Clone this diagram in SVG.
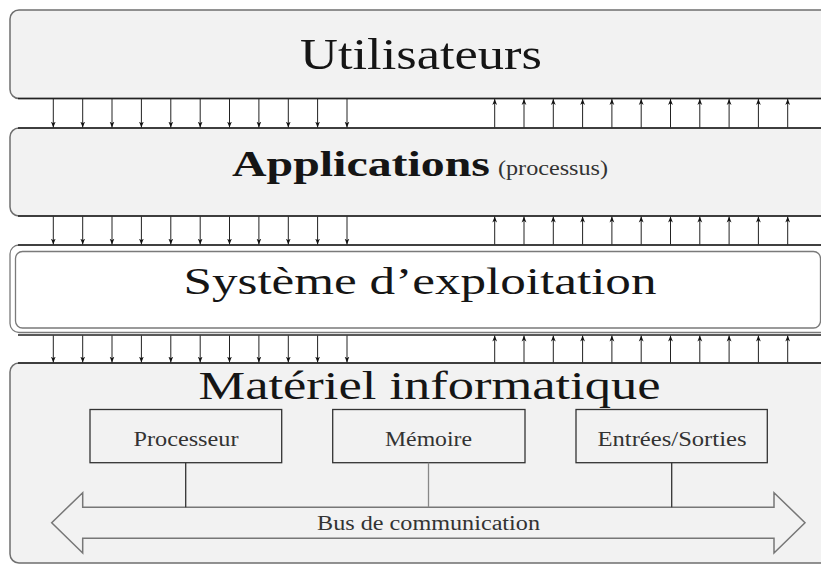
<svg xmlns="http://www.w3.org/2000/svg" width="821" height="565" viewBox="0 0 821 565">
<defs>
<style>
.layer{fill:#f2f2f2;stroke:#6f6f6f;stroke-width:1.5}
.os{fill:#ffffff;stroke:#7a7a7a;stroke-width:1.3}
.title{font-family:"Liberation Serif","DejaVu Serif",serif;fill:#151515}
.lbl{font-family:"Liberation Serif","DejaVu Serif",serif;fill:#333;font-size:20px}
.comp{fill:#f2f2f2;stroke:#333;stroke-width:1.3}
.sep{stroke:#222;stroke-width:1.3;fill:none}
.arr{stroke:#222;stroke-width:1;fill:none;marker-end:url(#ah)}
.link{stroke:#333;stroke-width:1.3}
</style>
<marker id="ah" viewBox="0 0 10 10" refX="10" refY="5" markerWidth="6" markerHeight="6" markerUnits="userSpaceOnUse" orient="auto">
<path d="M0,1 L10,5 L0,9 L3,5 Z" fill="#111"/>
</marker>
</defs>
<rect width="821" height="565" fill="#ffffff"/>

<g id="utilisateurs">
<rect class="layer" x="10" y="10" width="830" height="88.5" rx="9"/>
<text class="title" x="421" y="68.5" font-size="45" text-anchor="middle" textLength="242" lengthAdjust="spacingAndGlyphs">Utilisateurs</text>
</g>

<g id="applications">
<rect class="layer" x="10" y="128" width="830" height="88" rx="9"/>
<text class="title" x="232" y="176" font-size="36" font-weight="bold" textLength="258" lengthAdjust="spacingAndGlyphs">Applications</text>
<text class="lbl" x="498" y="175" font-size="21" textLength="110" lengthAdjust="spacingAndGlyphs">(processus)</text>
</g>

<g id="systeme">
<rect class="os" x="10" y="245" width="830" height="87.5" rx="9"/>
<rect class="os" x="15.5" y="251.5" width="805" height="76.5" rx="7"/>
<text class="title" x="183.5" y="294" font-size="38" textLength="473" lengthAdjust="spacingAndGlyphs">Système d’exploitation</text>
</g>

<g id="materiel">
<rect class="layer" x="10" y="363" width="830" height="200" rx="9"/>
<text class="title" x="198.5" y="399" font-size="41" textLength="462" lengthAdjust="spacingAndGlyphs">Matériel informatique</text>
</g>

<g id="processeur">
<rect class="comp" x="90" y="409.5" width="191.7" height="53.2"/>
<text class="lbl" x="133.5" y="446" textLength="105" lengthAdjust="spacingAndGlyphs">Processeur</text>
</g>

<g id="memoire">
<rect class="comp" x="332.7" y="409.5" width="192.3" height="53.2"/>
<text class="lbl" x="385" y="446" textLength="87" lengthAdjust="spacingAndGlyphs">Mémoire</text>
</g>

<g id="entrees-sorties">
<rect class="comp" x="576" y="409.5" width="191.3" height="53.2"/>
<text class="lbl" x="597.5" y="446" textLength="149" lengthAdjust="spacingAndGlyphs">Entrées/Sorties</text>
</g>

<g id="bus">
<path d="M82.7,507.3 L774,507.3 L774,492.7 L805,522.7 L774,553 L774,538.3 L82.7,538.3 L82.7,553 L51.7,522.7 L82.7,492.7 Z" fill="#f2f2f2" stroke="#777" stroke-width="1.5" stroke-linejoin="miter"/>
<text class="lbl" x="317" y="530" font-size="21" textLength="223" lengthAdjust="spacingAndGlyphs">Bus de communication</text>
</g>

<g id="connectors">
<line class="sep" x1="18" y1="98.5" x2="821" y2="98.5"/>
<line class="sep" x1="18" y1="128" x2="821" y2="128"/>
<line class="sep" x1="18" y1="216" x2="821" y2="216"/>
<line class="sep" x1="18" y1="245" x2="821" y2="245"/>
<line class="sep" x1="18" y1="335" x2="821" y2="335"/>
<line class="sep" x1="18" y1="363" x2="821" y2="363"/>

<g id="down-1">
<line class="arr" x1="53.3" y1="99" x2="53.3" y2="127.5"/>
<line class="arr" x1="82.7" y1="99" x2="82.7" y2="127.5"/>
<line class="arr" x1="112" y1="99" x2="112" y2="127.5"/>
<line class="arr" x1="141.4" y1="99" x2="141.4" y2="127.5"/>
<line class="arr" x1="170.8" y1="99" x2="170.8" y2="127.5"/>
<line class="arr" x1="200.2" y1="99" x2="200.2" y2="127.5"/>
<line class="arr" x1="229.5" y1="99" x2="229.5" y2="127.5"/>
<line class="arr" x1="258.9" y1="99" x2="258.9" y2="127.5"/>
<line class="arr" x1="288.3" y1="99" x2="288.3" y2="127.5"/>
<line class="arr" x1="317.6" y1="99" x2="317.6" y2="127.5"/>
<line class="arr" x1="347" y1="99" x2="347" y2="127.5"/>
</g>
<g id="up-1">
<line class="arr" x1="494.7" y1="127.5" x2="494.7" y2="99"/>
<line class="arr" x1="524" y1="127.5" x2="524" y2="99"/>
<line class="arr" x1="553.3" y1="127.5" x2="553.3" y2="99"/>
<line class="arr" x1="582.6" y1="127.5" x2="582.6" y2="99"/>
<line class="arr" x1="611.9" y1="127.5" x2="611.9" y2="99"/>
<line class="arr" x1="641.2" y1="127.5" x2="641.2" y2="99"/>
<line class="arr" x1="670.5" y1="127.5" x2="670.5" y2="99"/>
<line class="arr" x1="699.8" y1="127.5" x2="699.8" y2="99"/>
<line class="arr" x1="729.1" y1="127.5" x2="729.1" y2="99"/>
<line class="arr" x1="758.4" y1="127.5" x2="758.4" y2="99"/>
<line class="arr" x1="787.7" y1="127.5" x2="787.7" y2="99"/>
</g>

<g id="down-2">
<line class="arr" x1="53.3" y1="216.5" x2="53.3" y2="244.5"/>
<line class="arr" x1="82.7" y1="216.5" x2="82.7" y2="244.5"/>
<line class="arr" x1="112" y1="216.5" x2="112" y2="244.5"/>
<line class="arr" x1="141.4" y1="216.5" x2="141.4" y2="244.5"/>
<line class="arr" x1="170.8" y1="216.5" x2="170.8" y2="244.5"/>
<line class="arr" x1="200.2" y1="216.5" x2="200.2" y2="244.5"/>
<line class="arr" x1="229.5" y1="216.5" x2="229.5" y2="244.5"/>
<line class="arr" x1="258.9" y1="216.5" x2="258.9" y2="244.5"/>
<line class="arr" x1="288.3" y1="216.5" x2="288.3" y2="244.5"/>
<line class="arr" x1="317.6" y1="216.5" x2="317.6" y2="244.5"/>
<line class="arr" x1="347" y1="216.5" x2="347" y2="244.5"/>
</g>
<g id="up-2">
<line class="arr" x1="494.7" y1="244.5" x2="494.7" y2="216.5"/>
<line class="arr" x1="524" y1="244.5" x2="524" y2="216.5"/>
<line class="arr" x1="553.3" y1="244.5" x2="553.3" y2="216.5"/>
<line class="arr" x1="582.6" y1="244.5" x2="582.6" y2="216.5"/>
<line class="arr" x1="611.9" y1="244.5" x2="611.9" y2="216.5"/>
<line class="arr" x1="641.2" y1="244.5" x2="641.2" y2="216.5"/>
<line class="arr" x1="670.5" y1="244.5" x2="670.5" y2="216.5"/>
<line class="arr" x1="699.8" y1="244.5" x2="699.8" y2="216.5"/>
<line class="arr" x1="729.1" y1="244.5" x2="729.1" y2="216.5"/>
<line class="arr" x1="758.4" y1="244.5" x2="758.4" y2="216.5"/>
<line class="arr" x1="787.7" y1="244.5" x2="787.7" y2="216.5"/>
</g>

<g id="down-3">
<line class="arr" x1="53.3" y1="335.5" x2="53.3" y2="362.5"/>
<line class="arr" x1="82.7" y1="335.5" x2="82.7" y2="362.5"/>
<line class="arr" x1="112" y1="335.5" x2="112" y2="362.5"/>
<line class="arr" x1="141.4" y1="335.5" x2="141.4" y2="362.5"/>
<line class="arr" x1="170.8" y1="335.5" x2="170.8" y2="362.5"/>
<line class="arr" x1="200.2" y1="335.5" x2="200.2" y2="362.5"/>
<line class="arr" x1="229.5" y1="335.5" x2="229.5" y2="362.5"/>
<line class="arr" x1="258.9" y1="335.5" x2="258.9" y2="362.5"/>
<line class="arr" x1="288.3" y1="335.5" x2="288.3" y2="362.5"/>
<line class="arr" x1="317.6" y1="335.5" x2="317.6" y2="362.5"/>
<line class="arr" x1="347" y1="335.5" x2="347" y2="362.5"/>
</g>
<g id="up-3">
<line class="arr" x1="494.7" y1="362.5" x2="494.7" y2="335.5"/>
<line class="arr" x1="524" y1="362.5" x2="524" y2="335.5"/>
<line class="arr" x1="553.3" y1="362.5" x2="553.3" y2="335.5"/>
<line class="arr" x1="582.6" y1="362.5" x2="582.6" y2="335.5"/>
<line class="arr" x1="611.9" y1="362.5" x2="611.9" y2="335.5"/>
<line class="arr" x1="641.2" y1="362.5" x2="641.2" y2="335.5"/>
<line class="arr" x1="670.5" y1="362.5" x2="670.5" y2="335.5"/>
<line class="arr" x1="699.8" y1="362.5" x2="699.8" y2="335.5"/>
<line class="arr" x1="729.1" y1="362.5" x2="729.1" y2="335.5"/>
<line class="arr" x1="758.4" y1="362.5" x2="758.4" y2="335.5"/>
<line class="arr" x1="787.7" y1="362.5" x2="787.7" y2="335.5"/>
</g>

<line class="link" x1="185.7" y1="462.7" x2="185.7" y2="507.3"/>
<line x1="428.5" y1="462.7" x2="428.5" y2="507.3" stroke="#888" stroke-width="1.3"/>
<line class="link" x1="671.7" y1="462.7" x2="671.7" y2="507.3"/>
</g>
</svg>
